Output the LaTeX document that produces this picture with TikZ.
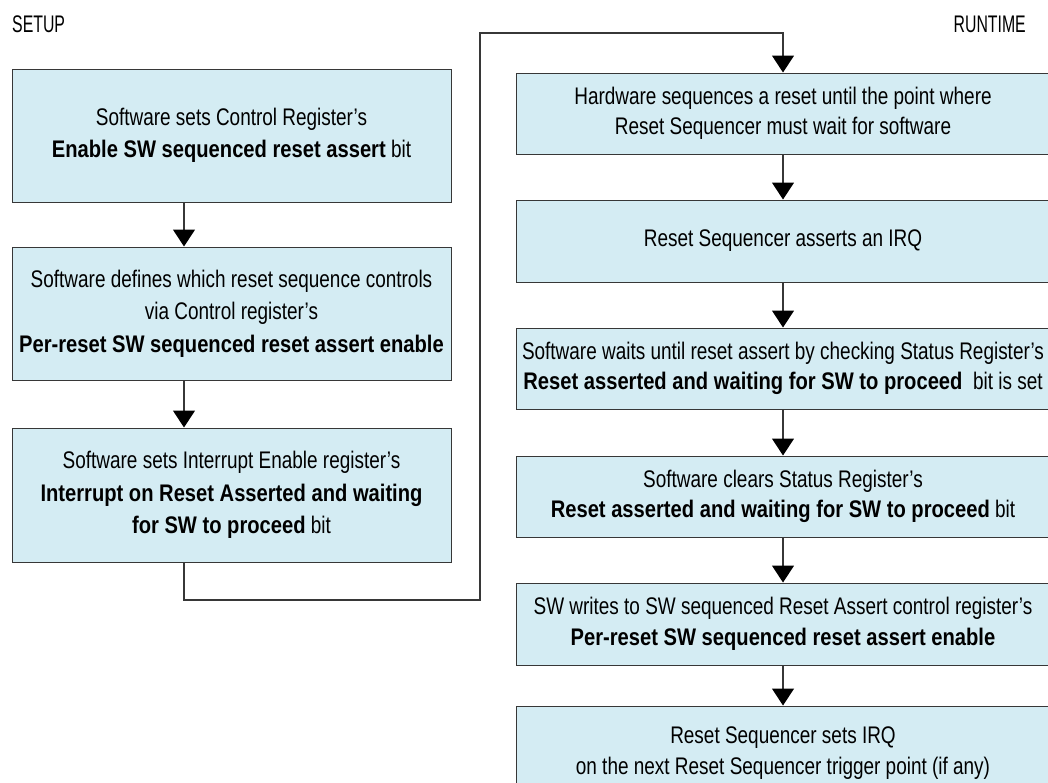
\documentclass[tikz,border=0pt]{standalone}
\usepackage{fontspec}
\setmainfont{Liberation Sans}[FakeStretch=0.79, BoldFeatures={FakeStretch=0.84}]
\newfontfamily\labelfont{Liberation Sans}[FakeStretch=0.66]
\usetikzlibrary{arrows.meta}
\definecolor{boxfill}{RGB}{212,236,243}
\definecolor{edgecol}{RGB}{55,55,55}
\begin{document}
\begin{tikzpicture}[x=1pt,y=-1pt,
  box/.style={draw=edgecol, line width=1pt, fill=boxfill, inner sep=0pt, align=center,
              font=\fontsize{24}{32.5}\selectfont},
  rbox/.style={box, font=\fontsize{24}{30.5}\selectfont, minimum width=534pt},
  lbox/.style={box, minimum width=439pt},
  arr/.style={draw=edgecol, line width=1.2pt, -{Triangle[width=22pt,length=17pt,black]}},
  lbl/.style={inner sep=0pt, font=\labelfont\fontsize{24}{28}\selectfont}]
\useasboundingbox (0,0) rectangle (1048,782);
\clip (0,0) rectangle (1048,782);
\fill[white] (0,0) rectangle (1048,782);

\node[lbl, anchor=west] (setup) at (12,24) {SETUP};
\node[lbl, anchor=east] (runtime) at (1026,24) {RUNTIME};

\node[lbox, minimum height=133pt] (L1) at (231.5,135.5)
  {Software sets Control Register’s\\\textbf{Enable SW sequenced reset assert} bit};
\node[lbox, minimum height=133pt] (L2) at (231.5,313.5)
  {Software defines which reset sequence controls\\via Control register’s\\\textbf{Per-reset SW sequenced reset assert enable}};
\node[lbox, minimum height=134pt] (L3) at (231.5,495)
  {Software sets Interrupt Enable register’s\\\textbf{Interrupt on Reset Asserted and waiting}\\\textbf{for SW to proceed} bit};

\node[rbox, minimum height=81pt] (R1) at (783,113.5)
  {Hardware sequences a reset until the point where\\Reset Sequencer must wait for software};
\node[rbox, minimum height=82pt] (R2) at (783,241)
  {Reset Sequencer asserts an IRQ};
\node[rbox, minimum height=81pt] (R3) at (783,368.5)
  {Software waits until reset assert by checking Status Register’s\\\textbf{Reset asserted and waiting for SW to proceed}\ \ bit is set};
\node[rbox, minimum height=81pt] (R4) at (783,496.5)
  {Software clears Status Register’s\\\textbf{Reset asserted and waiting for SW to proceed} bit};
\node[rbox, minimum height=82pt] (R5) at (783,624)
  {SW writes to SW sequenced Reset Assert control register’s\\\textbf{Per-reset SW sequenced reset assert enable}};
\node[rbox, minimum height=94pt] (R6) at (783,753)
  {Reset Sequencer sets IRQ\\on the next Reset Sequencer trigger point (if any)};

\coordinate (ax) at (184,0);
\coordinate (c1) at (480,600);
\coordinate (c2) at (480,33);

\draw[arr] (L1.south -| ax) -- (L2.north -| ax);
\draw[arr] (L2.south -| ax) -- (L3.north -| ax);
\draw[arr] (L3.south -| ax) |- (c1) -- (c2) -| (R1.north);

\draw[arr] (R1.south) -- (R2.north);
\draw[arr] (R2.south) -- (R3.north);
\draw[arr] (R3.south) -- (R4.north);
\draw[arr] (R4.south) -- (R5.north);
\draw[arr] (R5.south) -- (R6.north);
\end{tikzpicture}
\end{document}
